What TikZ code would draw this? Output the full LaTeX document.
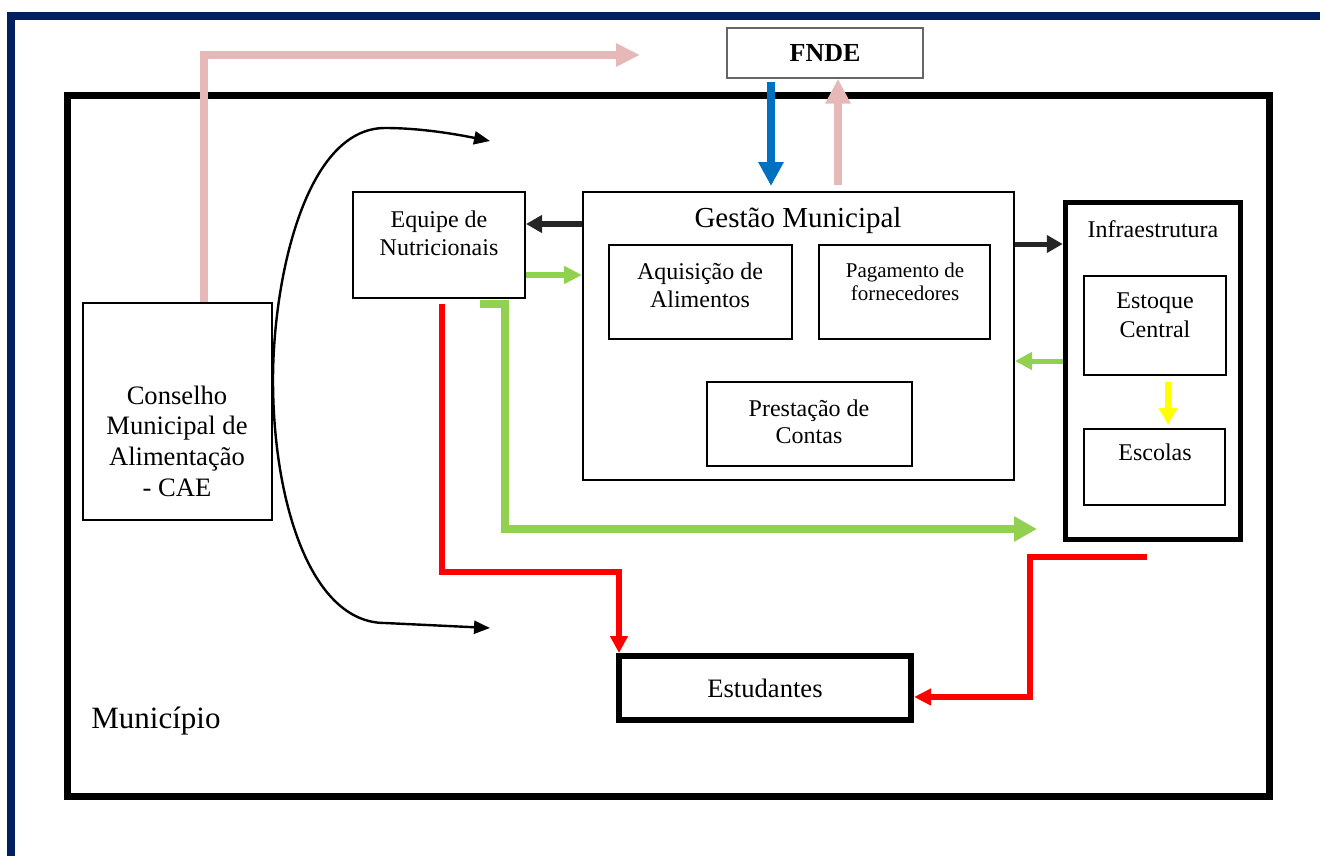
\documentclass[tikz,border=0pt]{standalone}
\usepackage{fontspec}
\setmainfont{Liberation Serif}
\usetikzlibrary{arrows.meta}
\definecolor{navy}{HTML}{002060}
\definecolor{rosa}{HTML}{E6B9B8}
\definecolor{azul}{HTML}{0070C0}
\definecolor{verde}{HTML}{92D050}
\definecolor{escuro}{HTML}{262626}
\definecolor{vermelho}{HTML}{FF0000}
\definecolor{amarelo}{HTML}{FFFF00}
\begin{document}
\begin{tikzpicture}[x=0.5pt,y=-0.5pt,line cap=butt,line join=miter,
  box/.style={draw,line width=1pt,inner sep=0pt},
  txt/.style={align=center,font=\fontsize{12}{14}\selectfont}]
\useasboundingbox (0,0) rectangle (1320,856);
% moldura
\draw[navy,line width=4pt] (11,856) -- (11,16) -- (1320,16);
\node[box,line width=3.5pt,minimum width=601pt,minimum height=350pt] (mun) at (668,446) {};
\node[anchor=base west,inner sep=0pt,font=\fontsize{15.5}{18}\selectfont] (munt) at (91,728) {Município};
\node[box,draw=black!60,line width=0.75pt,minimum width=98pt,minimum height=25pt,font=\bfseries\fontsize{13}{15}\selectfont] (fnde) at (825,53) {FNDE};
% gestao
\node[box,minimum width=215.5pt,minimum height=144pt] (gm) at (798.5,336) {};
\node[font=\fontsize{14.5}{17}\selectfont] (gmt) at (798,221) {Gestão Municipal};
\node[box,minimum width=91.5pt,minimum height=47pt] (aq) at (700.5,292) {};
\node[txt] (aqt) at (700,285) {Aquisição de\\Alimentos};
\node[box,minimum width=85.5pt,minimum height=47pt] (pag) at (904.5,292) {};
\node[txt,font=\fontsize{10.5}{11.5}\selectfont] (pagt) at (905,282) {Pagamento de\\fornecedores};
\node[box,minimum width=102.5pt,minimum height=42pt] (pc) at (809.5,424) {};
\node[txt,font=\fontsize{12}{13.5}\selectfont] (pct) at (809,422) {Prestação de\\Contas};
\node[box,minimum width=86pt,minimum height=53pt] (eq) at (439,245) {};
\node[txt] (eqt) at (439,233) {Equipe de\\Nutricionais};
\node[box,minimum width=94.5pt,minimum height=108.5pt] (cae) at (177.5,411.5) {};
\node[txt,font=\fontsize{13.3}{15.3}\selectfont] (caet) at (177,441) {Conselho\\Municipal de\\Alimentação\\- CAE};
% infraestrutura
\node[box,line width=2.5pt,minimum width=87.75pt,minimum height=168.75pt] (infra) at (1153,371) {};
\node[txt] (infrat) at (1153,229) {Infraestrutura};
\node[box,line width=1.2pt,minimum width=71pt,minimum height=49.5pt] (est) at (1155,325.5) {};
\node[txt,font=\fontsize{12}{14.5}\selectfont] (estt) at (1155,315) {Estoque\\Central};
\node[box,line width=1.2pt,minimum width=70.5pt,minimum height=38pt] (esc) at (1154.5,467) {};
\node[txt] (esct) at (1155,452) {Escolas};
\node[box,line width=3pt,minimum width=146pt,minimum height=32pt,font=\fontsize{13.3}{15}\selectfont] (estud) at (765,688) {Estudantes};
% setas
\coordinate (rosafim) at (640,55);
\draw[rosa,line width=4pt,-{Triangle[length=12pt,width=11pt]}] (cae.north -| 204,0) |- (rosafim);
\draw[rosa,line width=4pt,-{Triangle[length=12.5pt,width=12pt]},shorten <=3pt] (gm.north -| 838,0) -- (fnde.south -| 838,0);
\draw[azul,line width=4pt,-{Triangle[length=12pt,width=12pt]},shorten <=1.5pt,shorten >=2.5pt] (fnde.south -| 771,0) -- (gm.north -| 771,0);
\draw[escuro,line width=3pt,-{Triangle[length=8pt,width=8.5pt]}] (gm.west |- 0,224) -- (eq.east |- 0,224);
\draw[verde,line width=3pt,-{Triangle[length=9pt,width=8.5pt]}] (eq.east |- 0,275) -- (gm.west |- 0,275);
\draw[escuro,line width=2.5pt,-{Triangle[length=8pt,width=8.5pt]}] (gm.east |- 0,244) -- (infra.west |- 0,244);
\draw[verde,line width=2.5pt,-{Triangle[length=8.5pt,width=8.5pt]}] (infra.west |- 0,361) -- (gm.east |- 0,361);
\coordinate (verdefim) at (1037,529);
\draw[verde,line width=4pt,-{Triangle[length=11.5pt,width=12pt]}] ([yshift=-2.5pt]eq.south -| 480,0) -- ++(25,0) |- (verdefim);
\draw[vermelho,line width=3pt,-{Triangle[length=8.5pt,width=8.5pt]}] ([yshift=-2.5pt]eq.south -| 442,0) -- ++(0,268) -| ([xshift=1.5pt]estud.north west);
\coordinate (vermelhoini) at (1147,557);
\draw[vermelho,line width=3pt,-{Triangle[length=8.5pt,width=8pt]}] (vermelhoini) -- ++(-117,0) |- (estud.east |- 0,697);
\draw[amarelo,line width=3pt,-{Triangle[length=8.5pt,width=9pt]},shorten <=3pt,shorten >=1.5pt] (est.south -| 1168,0) -- (esc.north -| 1168,0);
% curva
\coordinate (curvaini) at (490,141);
\coordinate (curvafim) at (490,628);
\draw[line width=1.2pt,{Triangle[length=8pt,width=6.5pt]}-{Triangle[length=8pt,width=6.5pt]}] (curvaini) .. controls (440,131) and (410,128) .. (385,128) .. controls (305,128) and (273,280) .. (273,380) .. controls (273,500) and (310,623) .. (385,623) -- (curvafim);
\end{tikzpicture}
\end{document}
